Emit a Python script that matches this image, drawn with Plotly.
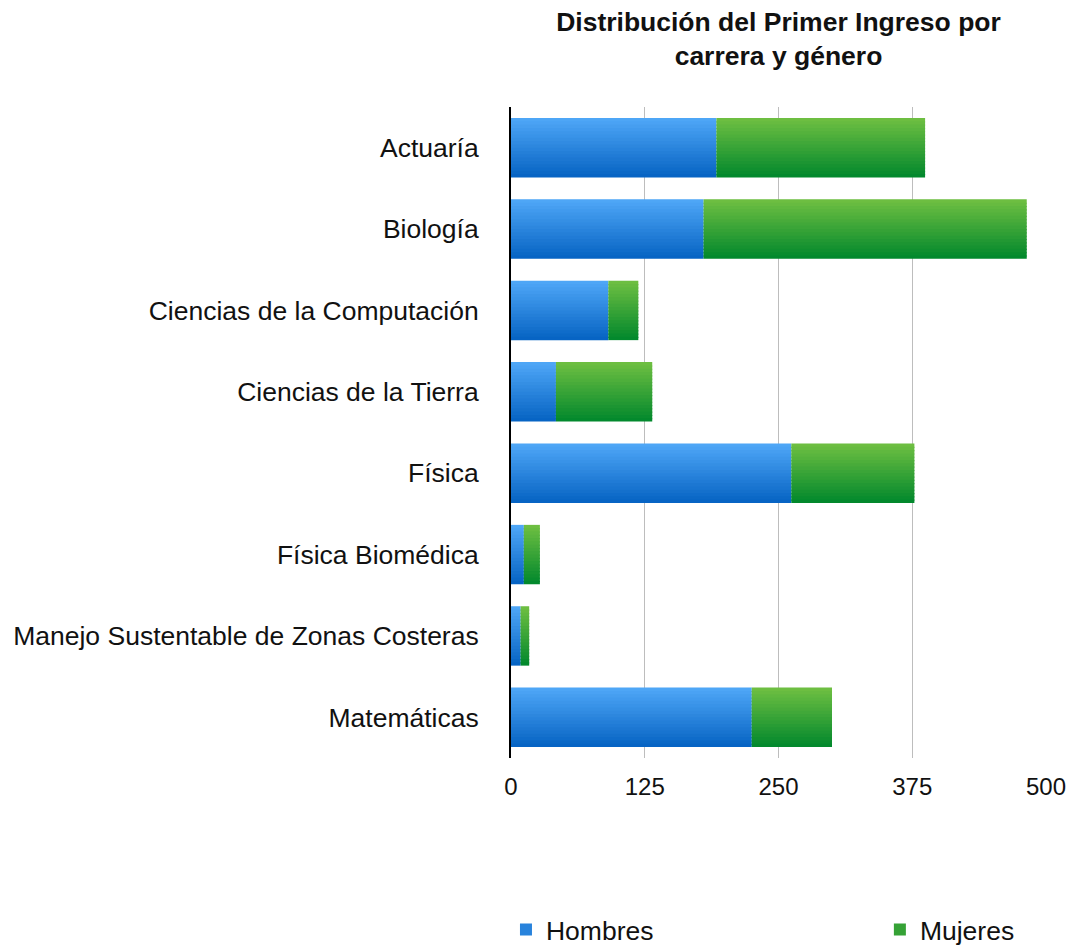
import plotly.graph_objects as go

carreras = ["Actuaría", "Biología", "Ciencias de la Computación", "Ciencias de la Tierra",
            "Física", "Física Biomédica", "Manejo Sustentable de Zonas Costeras", "Matemáticas"]
hombres = [192, 180, 91, 42, 262, 12, 9, 225]
mujeres = [195, 302, 28, 90, 115, 15, 8, 75]
x_ticks = [0, 125, 250, 375, 500]

FONT = "Liberation Sans, Arial, Helvetica, sans-serif"

# gradient styling (top -> bottom) for each series
BLUE_TOP, BLUE_BOT = (80, 168, 248), (5, 98, 194)
GREEN_TOP, GREEN_BOT = (112, 192, 66), (0, 135, 44)
BAR_W = 0.73
N_SLICES = 18


def mix(c1, c2, t):
    return "rgb(%d,%d,%d)" % tuple(round(a + (b - a) * t) for a, b in zip(c1, c2))


fig = go.Figure()
sw = BAR_W / N_SLICES
mid = N_SLICES // 2
for name, vals, base, ctop, cbot, leg in [
    ("Hombres", hombres, [0] * len(hombres), BLUE_TOP, BLUE_BOT, "legend"),
    ("Mujeres", mujeres, hombres, GREEN_TOP, GREEN_BOT, "legend2"),
]:
    for k in range(N_SLICES):
        t = (k + 0.5) / N_SLICES
        fig.add_trace(go.Bar(
            y=carreras, x=vals, base=base, name=name, orientation="h",
            offset=-BAR_W / 2 + k * sw, width=sw * 1.35 if k < N_SLICES - 1 else sw,
            marker=dict(color=mix(ctop, cbot, t), line=dict(width=0)),
            showlegend=(k == mid), legend=leg, legendgroup=name,
        ))

fig.update_layout(
    width=1071, height=948,
    barmode="overlay",
    plot_bgcolor="white", paper_bgcolor="white",
    font=dict(family=FONT, size=26, color="#111"),
    margin=dict(l=511, r=25, t=107, b=190, autoexpand=False),
    title=dict(text="<b>Distribución del Primer Ingreso por<br>carrera y género</b>",
               x=0.5, xref="paper", xanchor="center", y=1 - 30.5 / 948, yanchor="middle",
               font=dict(size=26.5, family=FONT, color="#111")),
    xaxis=dict(range=[0, 500], tickvals=x_ticks, ticktext=[str(v) for v in x_ticks],
               showgrid=True, gridcolor="#bdbdbd", gridwidth=1, zeroline=False,
               showline=False, ticks="", ticklabelstandoff=12, automargin=False,
               tickfont=dict(size=24)),
    yaxis=dict(autorange="reversed", showline=True, linecolor="black", linewidth=2,
               ticks="", ticklabelstandoff=25, showgrid=False, automargin=False,
               tickfont=dict(size=26.5)),
    legend=dict(orientation="h", x=-0.0094, xanchor="left", y=-0.264, yanchor="middle",
                font=dict(size=26.5), bgcolor="rgba(0,0,0,0)"),
    legend2=dict(orientation="h", x=0.6895, xanchor="left", y=-0.264, yanchor="middle",
                 font=dict(size=26.5), bgcolor="rgba(0,0,0,0)"),
    showlegend=True,
)

fig.write_html("out.html", config={"displayModeBar": False},
               post_script="document.body.style.margin='0';")
